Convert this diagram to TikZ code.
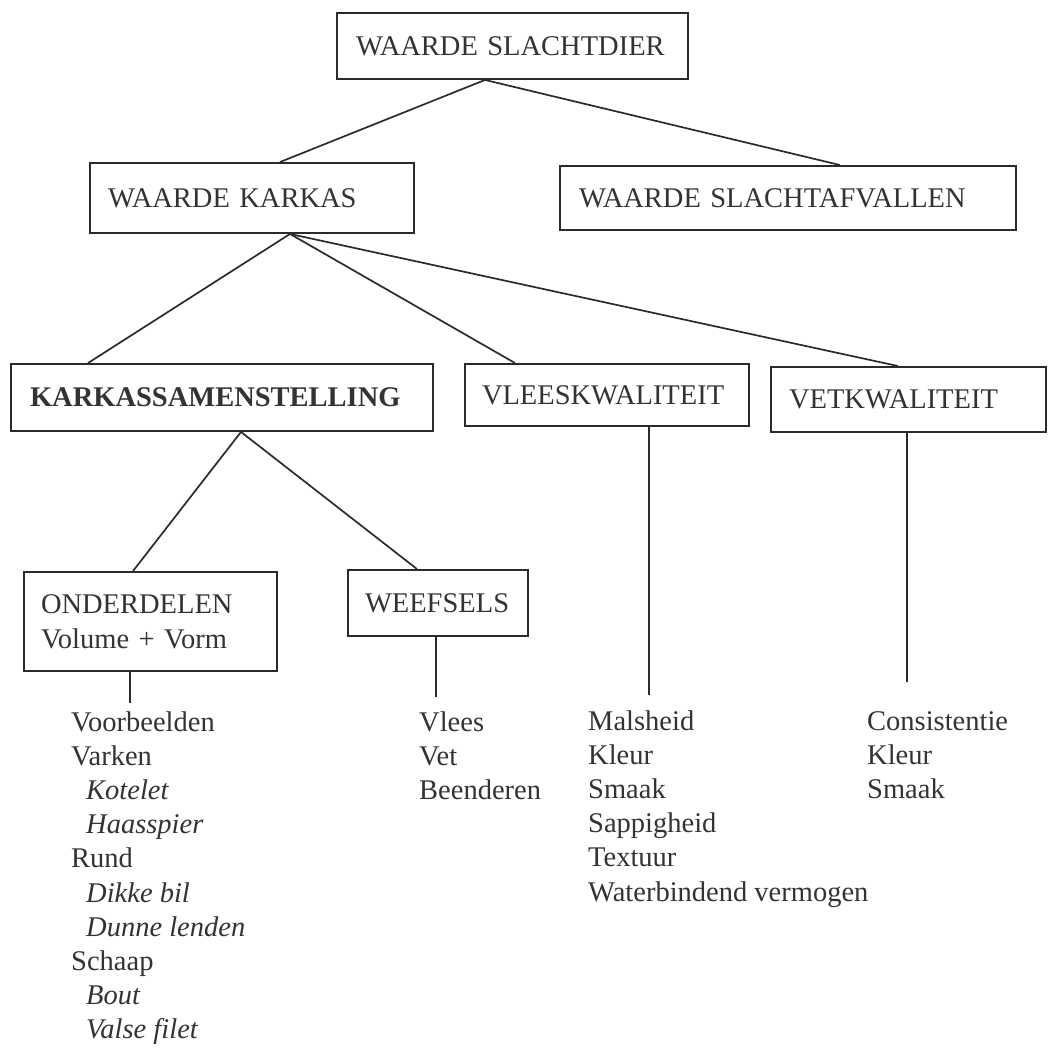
\documentclass[tikz,border=0pt]{standalone}
\usepackage{fontspec}
\setmainfont{Liberation Serif}
\definecolor{ink}{HTML}{2B2B2B}
\definecolor{txt}{HTML}{333333}
\begin{document}
\begin{tikzpicture}[x=1pt,y=-1pt,
  box/.style={draw=ink, line width=1.9pt, text=txt, align=left,
    font=\fontsize{28.5}{35}\selectfont, inner ysep=0pt},
  conn/.style={draw=ink, line width=1.7pt},
  lst/.style={anchor=base west, inner sep=0pt, text=txt,
    font=\fontsize{28.5}{34}\selectfont},
  ilst/.style={lst, font=\fontsize{28.5}{34}\selectfont\itshape}]
\useasboundingbox (0,0) rectangle (1049,1048);
\fill[white] (0,0) rectangle (1049,1048);

% boxes
\node[box, minimum height=66pt, text width=313pt, inner xsep=19pt] (top) at (512.5,46) {WAARDE SLACHTDIER};
\node[box, minimum height=70pt, text width=288pt, inner xsep=18pt] (karkas) at (252,198) {WAARDE KARKAS};
\node[box, minimum height=64pt, text width=418pt, inner xsep=19pt] (afval) at (788,198) {WAARDE SLACHTAFVALLEN};
\node[box, minimum height=67pt, text width=384pt, inner xsep=19pt, font=\fontsize{28.5}{33}\selectfont\bfseries] (samen) at (222,397.5) {KARKASSAMENSTELLING};
\node[box, minimum height=62pt, text width=250pt, inner xsep=17pt] (vlees) at (607,395) {VLEESKWALITEIT};
\node[box, minimum height=65pt, text width=239pt, inner xsep=18pt] (vet) at (908.5,399.5) {VETKWALITEIT};
\node[box, minimum height=99pt, text width=219pt, inner xsep=17pt] (onder) at (150.5,621.5) {ONDERDELEN\\Volume + Vorm};
\node[box, minimum height=66pt, text width=146pt, inner xsep=17pt] (weef) at (438,603) {WEEFSELS};

% connectors between boxes
\draw[conn] ([xshift=-27.5pt]top.south) -- ([xshift=28pt]karkas.north);
\draw[conn] ([xshift=-27.5pt]top.south) -- ([xshift=52pt]afval.north);
\draw[conn] ([xshift=38pt]karkas.south) -- ([xshift=-134pt]samen.north);
\draw[conn] ([xshift=38pt]karkas.south) -- ([xshift=-92pt]vlees.north);
\draw[conn] ([xshift=38pt]karkas.south) -- ([xshift=-10.5pt]vet.north);
\draw[conn] ([xshift=19pt]samen.south) -- ([xshift=-17.5pt]onder.north);
\draw[conn] ([xshift=19pt]samen.south) -- ([xshift=-21pt]weef.north);

% stems to lists
\coordinate (e1) at (130,703);
\coordinate (e2) at (436,697);
\coordinate (e3) at (649,695);
\coordinate (e4) at (907,682);
\draw[conn] ([xshift=-20.5pt]onder.south) -- (e1);
\draw[conn] ([xshift=-2pt]weef.south) -- (e2);
\draw[conn] ([xshift=42pt]vlees.south) -- (e3);
\draw[conn] ([xshift=-1.5pt]vet.south) -- (e4);

% list 1
\node[lst]  (a1)  at (71,731)   {Voorbeelden};
\node[lst]  (a2)  at (71,765.2) {Varken};
\node[ilst] (a3)  at (86,799.4) {Kotelet};
\node[ilst] (a4)  at (86,833.6) {Haasspier};
\node[lst]  (a5)  at (71,867.8) {Rund};
\node[ilst] (a6)  at (86,902)   {Dikke bil};
\node[ilst] (a7)  at (86,936.2) {Dunne lenden};
\node[lst]  (a8)  at (71,970.4) {Schaap};
\node[ilst] (a9)  at (86,1004.6) {Bout};
\node[ilst] (a10) at (86,1038.8) {Valse filet};

% list 2
\node[lst] (b1) at (419,731)   {Vlees};
\node[lst] (b2) at (419,765.2) {Vet};
\node[lst] (b3) at (419,799.4) {Beenderen};

% list 3
\node[lst] (c1) at (588,730)   {Malsheid};
\node[lst] (c2) at (588,764.2) {Kleur};
\node[lst] (c3) at (588,798.4) {Smaak};
\node[lst] (c4) at (588,832.6) {Sappigheid};
\node[lst] (c5) at (588,866.8) {Textuur};
\node[lst] (c6) at (588,901)   {Waterbindend vermogen};

% list 4
\node[lst] (d1) at (867,730)   {Consistentie};
\node[lst] (d2) at (867,764.2) {Kleur};
\node[lst] (d3) at (867,798.4) {Smaak};
\end{tikzpicture}
\end{document}
